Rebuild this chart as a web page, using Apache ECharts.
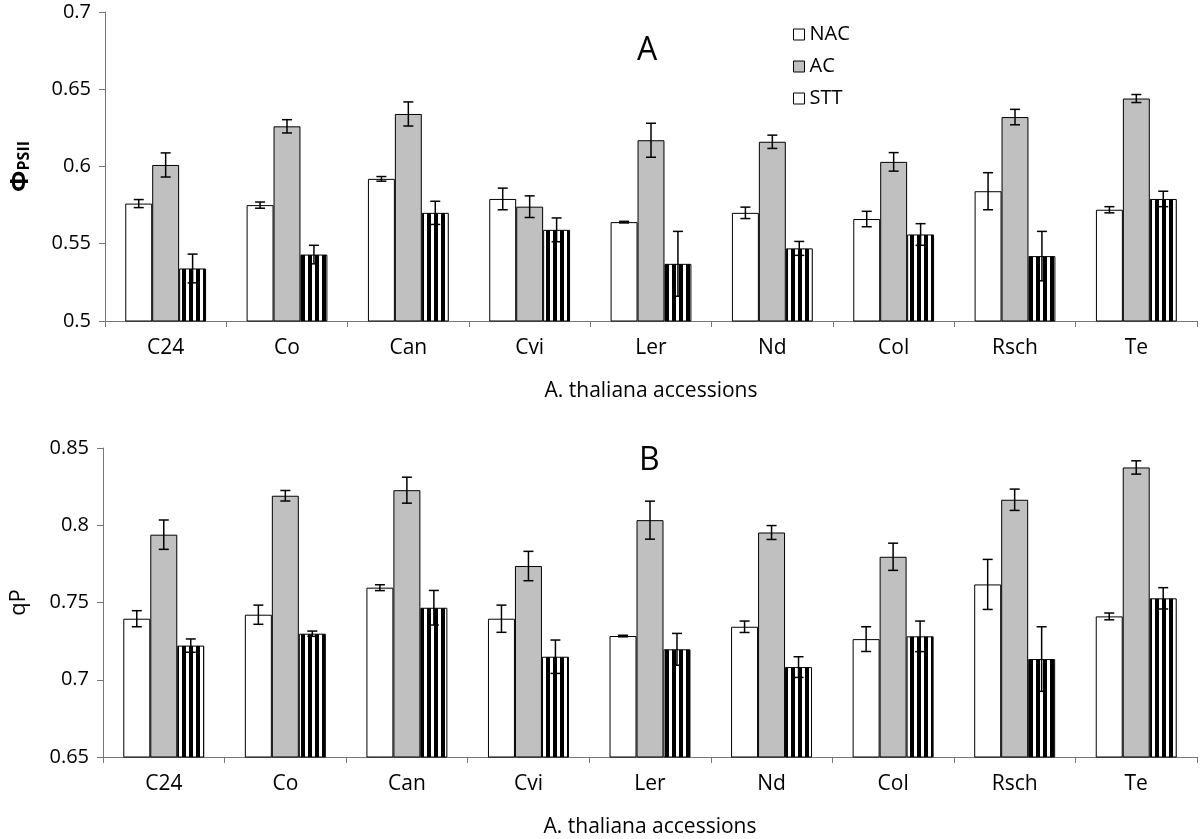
<!DOCTYPE html>
<html>
<head>
<meta charset="utf-8">
<script src="https://cdn.jsdelivr.net/npm/echarts@6/dist/echarts.min.js"></script>
<style>
html,body{margin:0;padding:0;background:#fff;}
#main{width:1200px;height:839px;}
</style>
</head>
<body>
<div id="main"></div>
<script>
const categories = ['C24','Co','Can','Cvi','Ler','Nd','Col','Rsch','Te'];
const seriesNames = ['NAC','AC','STT'];

// Panel A: PhiPSII
const phiNAC = [0.576,0.575,0.592,0.579,0.564,0.570,0.566,0.584,0.572];
const phiAC  = [0.601,0.626,0.634,0.574,0.617,0.616,0.603,0.632,0.644];
const phiSTT = [0.534,0.543,0.570,0.559,0.537,0.547,0.556,0.542,0.579];
const phiNACerr = [0.0026,0.002,0.0015,0.007,0.0005,0.0037,0.005,0.012,0.002];
const phiACerr  = [0.0078,0.0043,0.0078,0.007,0.011,0.0043,0.006,0.005,0.0026];
const phiSTTerr = [0.0093,0.006,0.0075,0.0077,0.021,0.0045,0.007,0.016,0.005];

// Panel B: qP
const qNAC = [0.7395,0.7421,0.7596,0.7395,0.7283,0.7343,0.7263,0.7617,0.741];
const qAC  = [0.7939,0.8191,0.8227,0.7736,0.8033,0.7953,0.7796,0.8165,0.8374];
const qSTT = [0.7221,0.7298,0.7466,0.7149,0.7197,0.7082,0.7281,0.7134,0.7527];
const qNACerr = [0.0052,0.0062,0.0019,0.0088,0.0005,0.0037,0.008,0.0162,0.0022];
const qACerr  = [0.0095,0.0034,0.0084,0.0095,0.0123,0.0045,0.0088,0.0069,0.0043];
const qSTTerr = [0.0043,0.0017,0.0112,0.0108,0.0103,0.0067,0.0099,0.0209,0.0069];

const FONT = 'Open Sans';
const BAR_FRAC = 0.222;

// stripe pattern for STT
const pc = document.createElement('canvas');
pc.width = 7; pc.height = 7;
const pctx = pc.getContext('2d');
pctx.fillStyle = '#ffffff'; pctx.fillRect(0,0,7,7);
pctx.fillStyle = '#000000'; pctx.fillRect(0,0,4,7);
const stripe = {image: pc, repeat: 'repeat'};

const fills = ['#ffffff', '#c0c0c0', stripe];

function barSeries(name, data, idx, axisIdx) {
  return {
    name: name, type: 'bar', xAxisIndex: axisIdx, yAxisIndex: axisIdx,
    data: data, barWidth: (BAR_FRAC*100)+'%', barGap: '0%',
    itemStyle: {color: fills[idx], borderColor: '#000', borderWidth: 1},
    emphasis: {disabled: true}, z: 2
  };
}
function errSeries(vals, errs, idx, axisIdx) {
  const data = vals.map((v,i) => [i, v, errs[i], idx-1]);
  return {
    type: 'custom', xAxisIndex: axisIdx, yAxisIndex: axisIdx, z: 5,
    silent: true, clip: false,
    encode: {x: 0, y: 1},
    data: data,
    renderItem: function(params, api) {
      const x = api.value(0), v = api.value(1), e = api.value(2), off = api.value(3);
      const catW = api.size([1, 0])[0];
      const bw = catW * BAR_FRAC;
      const c = api.coord([x, v]);
      const hi = api.coord([x, v + e]);
      const lo = api.coord([x, v - e]);
      const cx = c[0] + off * bw;
      const cap = 5;
      const st = {stroke: '#000', lineWidth: 1.5};
      return {type: 'group', children: [
        {type: 'line', shape: {x1: cx, y1: hi[1], x2: cx, y2: lo[1]}, style: st},
        {type: 'line', shape: {x1: cx-cap, y1: hi[1], x2: cx+cap, y2: hi[1]}, style: st},
        {type: 'line', shape: {x1: cx-cap, y1: lo[1], x2: cx+cap, y2: lo[1]}, style: st}
      ]};
    }
  };
}

const axisLineStyle = {lineStyle: {color: '#777', width: 1}};
function xAxis(gridIndex) {
  return {
    type: 'category', gridIndex: gridIndex, data: categories,
    axisLine: axisLineStyle,
    axisTick: {show: true, length: 6, lineStyle: {color: '#777'}},
    axisLabel: {color: '#000', fontSize: 21, fontFamily: FONT, margin: 17},
    name: 'A. thaliana accessions', nameLocation: 'middle', nameGap: 60,
    nameTextStyle: {color: '#000', fontSize: 21, fontFamily: FONT}
  };
}
function yAxis(gridIndex, min, max, name, nameStyle, gap) {
  return {
    type: 'value', gridIndex: gridIndex, min: min, max: max, interval: 0.05,
    axisLine: {show: true, lineStyle: {color: '#777', width: 1}},
    axisTick: {show: true, length: 6, lineStyle: {color: '#777'}},
    splitLine: {show: false},
    axisLabel: {color: '#000', fontSize: 20, fontFamily: FONT, margin: 14},
    name: name, nameLocation: 'middle', nameRotate: 90, nameGap: gap,
    nameTextStyle: nameStyle
  };
}

const chart = echarts.init(document.getElementById('main'), null, {renderer: 'canvas'});
const option = {
  backgroundColor: '#ffffff',
  animation: false,
  textStyle: {fontFamily: FONT},
  title: [
    {text: 'A', left: 637, top: 35, padding: 0, textStyle: {fontSize: 32, fontWeight: 'normal', color: '#000', fontFamily: FONT}},
    {text: 'B', left: 639, top: 445, padding: 0, textStyle: {fontSize: 32, fontWeight: 'normal', color: '#000', fontFamily: FONT}}
  ],
  legend: {
    orient: 'vertical', left: 793, top: 24, padding: 0,
    itemWidth: 11, itemHeight: 11, itemGap: 11,
    icon: 'rect',
    textStyle: {fontSize: 20, color: '#000', fontFamily: FONT, lineHeight: 21},
    data: [
      {name: 'NAC', itemStyle: {color: '#fff', borderColor: '#000', borderWidth: 1}},
      {name: 'AC', itemStyle: {color: '#c0c0c0', borderColor: '#000', borderWidth: 1}},
      {name: 'STT', itemStyle: {color: '#fff', borderColor: '#000', borderWidth: 1}}
    ],
    selectedMode: false
  },
  grid: [
    {left: 100, width: 1097, top: 12, height: 309},
    {left: 100, width: 1097, top: 448, height: 310}
  ],
  xAxis: [xAxis(0), xAxis(1)],
  yAxis: [
    yAxis(0, 0.5, 0.7, '{a|Φ}{b|PSII}', {rich: {
      a: {fontSize: 25, fontWeight: 'bold', color: '#000', fontFamily: FONT},
      b: {fontSize: 16, fontWeight: 'bold', color: '#000', fontFamily: FONT, padding: [8, 0, 0, 0]}
    }}, 72),
    yAxis(1, 0.65, 0.85, 'qP', {fontSize: 22, color: '#000', fontFamily: FONT}, 73)
  ],
  series: [
    barSeries('NAC', phiNAC, 0, 0),
    barSeries('AC', phiAC, 1, 0),
    barSeries('STT', phiSTT, 2, 0),
    errSeries(phiNAC, phiNACerr, 0, 0),
    errSeries(phiAC, phiACerr, 1, 0),
    errSeries(phiSTT, phiSTTerr, 2, 0),
    barSeries('NAC', qNAC, 0, 1),
    barSeries('AC', qAC, 1, 1),
    barSeries('STT', qSTT, 2, 1),
    errSeries(qNAC, qNACerr, 0, 1),
    errSeries(qAC, qACerr, 1, 1),
    errSeries(qSTT, qSTTerr, 2, 1)
  ]
};
chart.setOption(option);
</script>
</body>
</html>
